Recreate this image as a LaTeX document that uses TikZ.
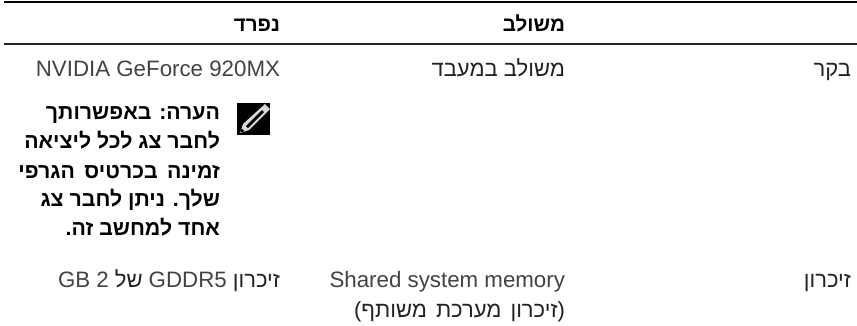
\documentclass[tikz,border=0pt]{standalone}
\usepackage{fontspec}
\setmainfont{Liberation Sans}
\newfontfamily\heb[Script=Hebrew]{Liberation Sans}
\TeXXeTstate=1
\definecolor{ink}{HTML}{222222}
\newcommand{\lat}[1]{{\fontsize{22.3}{26}\selectfont\color{ink!85!white}#1}}
\tikzset{
  cell/.style={anchor=base east,inner sep=0pt,outer sep=0pt,text=ink,font=\fontsize{22}{26}\selectfont\heb},
  head/.style={anchor=base east,inner sep=0pt,outer sep=0pt,text=black,font=\fontsize{20.6}{26}\selectfont\heb\bfseries},
  note/.style={anchor=base east,inner sep=0pt,outer sep=0pt,text=black,font=\fontsize{21.3}{26}\selectfont\heb\bfseries},
  toprule/.style={line width=2.2pt,black},
  midrule/.style={line width=1.1pt,ink}
}
\begin{document}
\begin{tikzpicture}[x=1pt,y=-1pt]
\useasboundingbox (0,0) rectangle (857,325);
\fill[white] (0,0) rectangle (857,325);
\coordinate (tl) at (4,2); \coordinate (tr) at (857,2);
\coordinate (ml) at (4,44); \coordinate (mr) at (857,44);
\draw[toprule] (tl) -- (tr);
\draw[midrule] (ml) -- (mr);
\node[head] (h1) at (280,31) {\beginR נפרד\endR};
\node[head] (h2) at (565,31) {\beginR משולב\endR};
\node[cell] (a3) at (851,76) {\beginR בקר\endR};
\node[cell] (a2) at (565,76) {\beginR משולב במעבד\endR};
\node[cell] (a1) at (280,76) {\lat{NVIDIA GeForce 920MX}};
\node[note] (n1) at (220,119.5) {\beginR הערה: באפשרותך\endR};
\node[note] (n2) at (220,148.5) {\beginR לחבר צג לכל ליציאה\endR};
\node[note] (n3) at (220,178) {\spaceskip=9.5pt\beginR זמינה בכרטיס הגרפי\endR};
\node[note] (n4) at (220,206.5) {\beginR שלך. ניתן לחבר צג\endR};
\node[note] (n5) at (220,235) {\beginR אחד למחשב זה.\endR};
\fill[black] (237,103) rectangle (270,135);
\fill[white!85!black] (265,104) -- (270,109) -- (249,130) -- (240,133) -- (243,124) -- cycle;
\fill[black] (262,110) -- (264,112) -- (248,128) -- (246,126) -- cycle;
\fill[black] (240.5,132.5) -- (241.8,128.5) -- (244.5,131) -- cycle;
\node[cell] (c3) at (851,287) {\beginR זיכרון\endR};
\node[cell] (c2) at (565,287) {\lat{Shared system memory}};
\node[cell] (c2b) at (565,317) {\spaceskip=9pt\beginR (זיכרון מערכת משותף)\endR};
\node[cell] (c1) at (280,287) {\beginR זיכרון \beginL\lat{GDDR5}\endL{} של \beginL\lat{2}\endL{} \beginL\lat{GB}\endL\endR};
\end{tikzpicture}
\end{document}
